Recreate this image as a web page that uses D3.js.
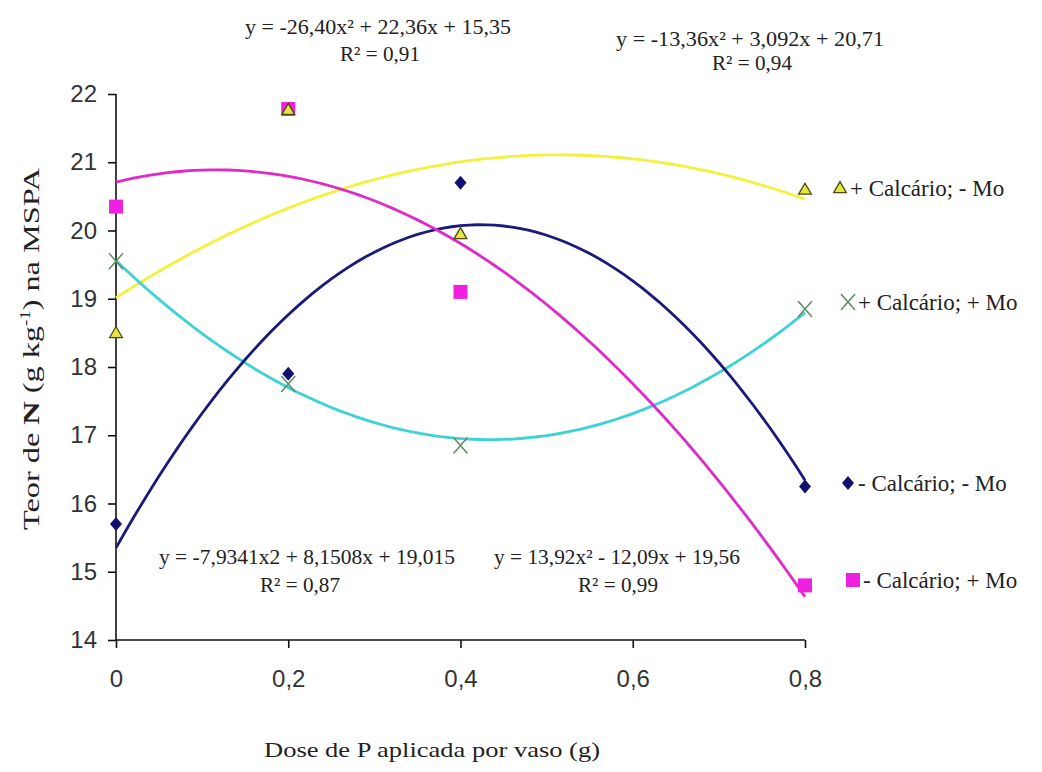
<!DOCTYPE html>
<html>
<head>
<meta charset="utf-8">
<script src="https://cdn.jsdelivr.net/npm/d3@7"></script>
<style>
  body { margin: 0; background: #fff; }
  svg text { fill: #222; }
  svg text.serif { font-family: "Liberation Serif", "DejaVu Serif", serif; }
  svg text.tick-lbl { font-family: "Liberation Sans Narrow", "Liberation Sans", Arial, sans-serif; }
</style>
</head>
<body>
<div id="container"></div>
<script>
// Doses (x) and measured N content per treatment
const doses = [0, 0.2, 0.4, 0.8];
const simCalcSemMo = [18.5, 21.77, 19.95, 20.6];   // + Calcário; - Mo
const simCalcComMo = [19.55, 17.75, 16.85, 18.85]; // + Calcário; + Mo
const semCalcSemMo = [15.7, 17.9, 20.7, 16.25];    // - Calcário; - Mo
const semCalcComMo = [20.35, 21.78, 19.1, 14.8];   // - Calcário; + Mo

// Quadratic trend coefficients [a, b, c] as printed on the chart
const coefSimSem = [-7.9341, 8.1508, 19.015];
const coefSimCom = [13.92, -12.09, 19.56];
const coefSemSem = [-26.40, 22.36, 15.35];
const coefSemCom = [-13.36, 3.092, 20.71];

const xTicks = [0, 0.2, 0.4, 0.6, 0.8];
const yTicks = [14, 15, 16, 17, 18, 19, 20, 21, 22];

const series = [
  { name: "+ Calcário; - Mo", values: simCalcSemMo, coef: coefSimSem, line: "#f2f23c", shape: "triangle", lx: 840, ly: 188 },
  { name: "+ Calcário; + Mo", values: simCalcComMo, coef: coefSimCom, line: "#3cd2d6", shape: "x", lx: 848, ly: 302 },
  { name: "- Calcário; - Mo", values: semCalcSemMo, coef: coefSemSem, line: "#1a1a78", shape: "diamond", lx: 848, ly: 483 },
  { name: "- Calcário; + Mo", values: semCalcComMo, coef: coefSemCom, line: "#e02ac8", shape: "square", lx: 853, ly: 580 }
];

const svg = d3.select("#container").append("svg")
  .attr("width", 1042)
  .attr("height", 772);

const x = d3.scaleLinear().domain([0, 0.8]).range([116, 805]);
const y = d3.scaleLinear().domain([14, 22]).range([640, 94]);

// Axes
const xAxis = svg.append("g")
  .attr("transform", "translate(0,640)")
  .call(d3.axisBottom(x).tickValues(xTicks).tickSize(8).tickPadding(22)
    .tickFormat(d => d === 0 ? "0" : d3.format(".1f")(d).replace(".", ",")));
const yAxis = svg.append("g")
  .attr("transform", "translate(116,0)")
  .call(d3.axisLeft(y).tickValues(yTicks).tickSize(8).tickPadding(11));

[xAxis, yAxis].forEach(a => {
  a.attr("font-family", null);
  a.select(".domain").attr("stroke", "#111").attr("stroke-width", 1.6);
  a.selectAll(".tick line").attr("stroke", "#111").attr("stroke-width", 1.6);
  a.selectAll(".tick text")
    .attr("class", "tick-lbl")
    .attr("font-size", 24)
    .style("fill", "#333");
});
xAxis.select(".domain").attr("d", "M116,0H805");
yAxis.select(".domain").attr("d", "M0,94V640");

// Trend curves
const samples = d3.range(0, 0.8001, 0.01);
const line = d3.line().x(d => x(d[0])).y(d => y(d[1]));
series.forEach(s => {
  const [a, b, c] = s.coef;
  svg.append("path")
    .datum(samples.map(v => [v, a * v * v + b * v + c]))
    .attr("d", line)
    .attr("fill", "none")
    .attr("stroke", s.line)
    .attr("stroke-width", 2.8);
});

// Marker drawing
function marker(g, shape, cx, cy) {
  if (shape === "triangle") {
    g.append("path").attr("d", d3.symbol(d3.symbolTriangle, 70)())
      .attr("transform", `translate(${cx},${cy + 1})`)
      .attr("fill", "#e6e640").attr("stroke", "#4a4a10").attr("stroke-width", 1.3);
  } else if (shape === "x") {
    g.append("path").attr("d", "M-7,-8L7,8M-7,8L7,-8")
      .attr("transform", `translate(${cx},${cy})`)
      .attr("stroke", "#5f8c60").attr("stroke-width", 1.5).attr("fill", "none");
  } else if (shape === "diamond") {
    g.append("path").attr("d", "M0,-7L6,0L0,7L-6,0Z")
      .attr("transform", `translate(${cx},${cy})`)
      .attr("fill", "#101070");
  } else {
    g.append("rect").attr("x", cx - 7).attr("y", cy - 7)
      .attr("width", 14).attr("height", 14).attr("fill", "#f020e0");
  }
}

// squares underneath, triangles on top (as in the original)
const pts = svg.append("g");
series.slice().reverse().forEach(s => {
  s.values.forEach((v, i) => marker(pts, s.shape, x(doses[i]), y(v)));
});

// Legend (right side)
const legend = svg.append("g");
series.forEach(s => {
  marker(legend, s.shape, s.lx, s.ly);
  legend.append("text")
    .attr("class", "serif")
    .attr("x", s.lx + 10).attr("y", s.ly + 8)
    .attr("font-size", 23)
    .text(s.name);
});

// Equation annotations
const notes = [
  { t: "y = -26,40x² + 22,36x + 15,35", x: 378, y: 34, w: 266 },
  { t: "R² = 0,91", x: 380, y: 61, w: 80 },
  { t: "y = -13,36x² + 3,092x + 20,71", x: 750, y: 46, w: 268 },
  { t: "R² = 0,94", x: 752, y: 70, w: 80 },
  { t: "y = -7,9341x2 + 8,1508x + 19,015", x: 307, y: 564, w: 296 },
  { t: "R² = 0,87", x: 300, y: 592, w: 80 },
  { t: "y = 13,92x² - 12,09x + 19,56", x: 617, y: 564, w: 246 },
  { t: "R² = 0,99", x: 618, y: 592, w: 80 }
];
svg.append("g").selectAll("text").data(notes).enter().append("text")
  .attr("class", "serif")
  .attr("x", d => d.x).attr("y", d => d.y)
  .attr("text-anchor", "middle")
  .attr("font-size", 21)
  .attr("textLength", d => d.w)
  .attr("lengthAdjust", "spacingAndGlyphs")
  .text(d => d.t);

// Axis titles
svg.append("text")
  .attr("class", "serif")
  .attr("x", 432).attr("y", 757)
  .attr("text-anchor", "middle")
  .attr("font-size", 21)
  .attr("textLength", 336)
  .attr("lengthAdjust", "spacingAndGlyphs")
  .text("Dose de P aplicada por vaso  (g)");

const yt = svg.append("text")
  .attr("class", "serif")
  .attr("transform", "translate(39,349) rotate(-90)")
  .attr("text-anchor", "middle")
  .attr("font-size", 24)
  .attr("textLength", 362)
  .attr("lengthAdjust", "spacingAndGlyphs");
yt.append("tspan").text("Teor de ");
yt.append("tspan").attr("font-weight", "bold").text("N");
yt.append("tspan").text(" (g kg");
yt.append("tspan").attr("dy", -9).attr("font-size", 14).text("-1");
yt.append("tspan").attr("dy", 9).text(") na MSPA");
</script>
</body>
</html>
